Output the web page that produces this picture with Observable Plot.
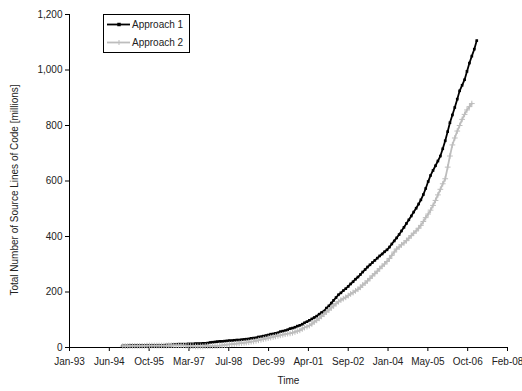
<!DOCTYPE html>
<html>
<head>
<meta charset="utf-8">
<script src="https://cdn.jsdelivr.net/npm/d3@7"></script>
<script src="https://cdn.jsdelivr.net/npm/@observablehq/plot@0.6"></script>
<style>
  html, body { margin: 0; padding: 0; background: #fff; }
  #chart svg { display: block; }
</style>
</head>
<body>
<div id="chart"></div>
<script>
// Cumulative source lines of code (millions), one value per month
const seriesNames = ["Approach 1", "Approach 2"];
const firstMonth1 = "1994-12-01";
const approach1 = [
  6, 6, 6, 7, 7, 7, 7, 7, 7, 7, 8, 8,
  8, 8, 8, 8, 8, 8, 9, 9, 9, 11, 11, 12,
  12, 12, 12, 13, 13, 13, 14, 14, 14, 15, 15, 16,
  18, 19, 20, 21, 22, 22, 23, 24, 25, 25, 26, 27,
  27, 28, 29, 30, 31, 33, 34, 35, 38, 39, 41, 43,
  45, 48, 49, 51, 53, 57, 59, 61, 64, 68, 70, 73,
  77, 80, 84, 89, 93, 98, 103, 108, 113, 120, 126, 131,
  142, 150, 160, 170, 180, 190, 197, 205, 212, 220, 229, 237,
  246, 254, 263, 272, 281, 290, 298, 306, 314, 322, 330, 337,
  345, 352, 362, 373, 384, 395, 407, 420, 433, 447, 460, 474,
  488, 502, 517, 532, 551, 573, 598, 620, 638, 655, 672, 690,
  716, 745, 778, 810, 838, 865, 895, 925, 945, 965, 995, 1025,
  1050, 1075, 1106
];
const firstMonth2 = "1994-12-01";
const approach2 = [
  5, 5, 5, 6, 6, 6, 6, 6, 6, 6, 7, 7,
  7, 7, 7, 7, 7, 7, 7, 8, 8, 8, 8, 8,
  8, 8, 7, 6, 5, 5, 4, 4, 4, 4, 5, 5,
  5, 5, 6, 6, 7, 8, 9, 10, 11, 12, 13, 14,
  15, 16, 17, 18, 19, 21, 22, 24, 26, 28, 30, 32,
  34, 36, 38, 40, 42, 44, 46, 48, 50, 51, 53, 56,
  59, 62, 67, 72, 75, 79, 85, 92, 98, 105, 112, 120,
  128, 135, 143, 150, 158, 165, 171, 176, 181, 187, 193, 198,
  204, 210, 217, 225, 232, 240, 249, 258, 266, 275, 284, 293,
  301, 310, 321, 332, 344, 355, 362, 370, 377, 385, 394, 403,
  412, 420, 430, 440, 454, 468, 481, 495, 512, 530, 550, 570,
  590, 608, 650, 690, 730, 755, 780, 800, 822, 840, 856, 868,
  879
];

// Axis ticks: 500-day steps on the time axis
const xTickDates = [
  "1993-01-31", "1994-06-15", "1995-10-28", "1997-03-11", "1998-07-24", "1999-12-06",
  "2001-04-19", "2002-09-01", "2004-01-14", "2005-05-28", "2006-10-10", "2008-02-22"
];
const yTicks = [0, 200, 400, 600, 800, 1000, 1200];
const xLabel = "Time";
const yLabel = "Total Number of Source Lines of Code [millions]";

const toRows = (start, values) => {
  const t0 = new Date(start);
  return values.map((v, i) => ({date: d3.utcMonth.offset(t0, i), value: v}));
};
const rows1 = toRows(firstMonth1, approach1);
const rows2 = toRows(firstMonth2, approach2);
const xTicks = xTickDates.map(d => new Date(d));

const font = "'Liberation Sans', Arial, Helvetica, sans-serif";
const grey = "#bdbdbd";

const svg = Plot.plot({
  width: 522,
  height: 391,
  marginLeft: 69,
  marginRight: 15,
  marginTop: 14,
  marginBottom: 44,
  style: {fontFamily: font, fontSize: "10px", color: "#222", background: "#fff", overflow: "visible"},
  x: {type: "utc", domain: [xTicks[0], xTicks[xTicks.length - 1]], label: null},
  y: {domain: [0, 1200], label: null},
  marks: [
    Plot.axisX({ticks: xTicks, tickFormat: d3.utcFormat("%b-%y"), tickSize: 4, tickPadding: 6, label: null, stroke: "#000"}),
    Plot.axisY({ticks: yTicks, tickFormat: d3.format(","), tickSize: 4, tickPadding: 3, label: null, stroke: "#000"}),
    Plot.ruleY([0], {stroke: "#000", strokeWidth: 1}),
    Plot.ruleX([xTicks[0]], {stroke: "#000", strokeWidth: 1}),
    Plot.line(rows1, {x: "date", y: "value", stroke: "#000", strokeWidth: 1.8}),
    Plot.dot(rows1, {x: "date", y: "value", symbol: "square", r: 1.5, fill: "#000", stroke: "none"}),
    Plot.line(rows2, {x: "date", y: "value", stroke: grey, strokeWidth: 1.8}),
    Plot.dot(rows2, {x: "date", y: "value", symbol: "plus", r: 2, stroke: grey, strokeWidth: 1}),
    Plot.text([xLabel], {frameAnchor: "bottom", dy: 36, fontSize: 10, fill: "#222"}),
    Plot.text([yLabel], {frameAnchor: "left", textAnchor: "middle", rotate: -90, dx: -55, dy: 9, fontSize: 10, fill: "#222"})
  ]
});

// Legend box in the upper left of the plotting area
const lg = d3.select(svg).append("g")
  .attr("font-family", font).attr("font-size", 10).attr("fill", "#222").attr("text-anchor", "start");
lg.append("rect").attr("x", 103.5).attr("y", 14.5).attr("width", 86).attr("height", 38)
  .attr("fill", "#fff").attr("stroke", "#000").attr("stroke-width", 1);
const legendItems = [
  {name: seriesNames[0], color: "#000", y: 24.5, fill: true},
  {name: seriesNames[1], color: grey, y: 42.5, fill: false}
];
for (const it of legendItems) {
  lg.append("line").attr("x1", 107).attr("x2", 130).attr("y1", it.y).attr("y2", it.y)
    .attr("stroke", it.color).attr("stroke-width", 1.8);
  if (it.fill) {
    lg.append("path").attr("d", d3.symbol(d3.symbolSquare, 12)()).attr("transform", `translate(119,${it.y})`).attr("fill", it.color);
  } else {
    lg.append("path").attr("d", "M-2.5,0H2.5M0,-2.5V2.5").attr("transform", `translate(119,${it.y})`)
      .attr("stroke", it.color).attr("fill", "none");
  }
  lg.append("text").attr("x", 132).attr("y", it.y).attr("dy", "0.35em").attr("text-anchor", "start").text(it.name);
}

document.getElementById("chart").appendChild(svg);
</script>
</body>
</html>
